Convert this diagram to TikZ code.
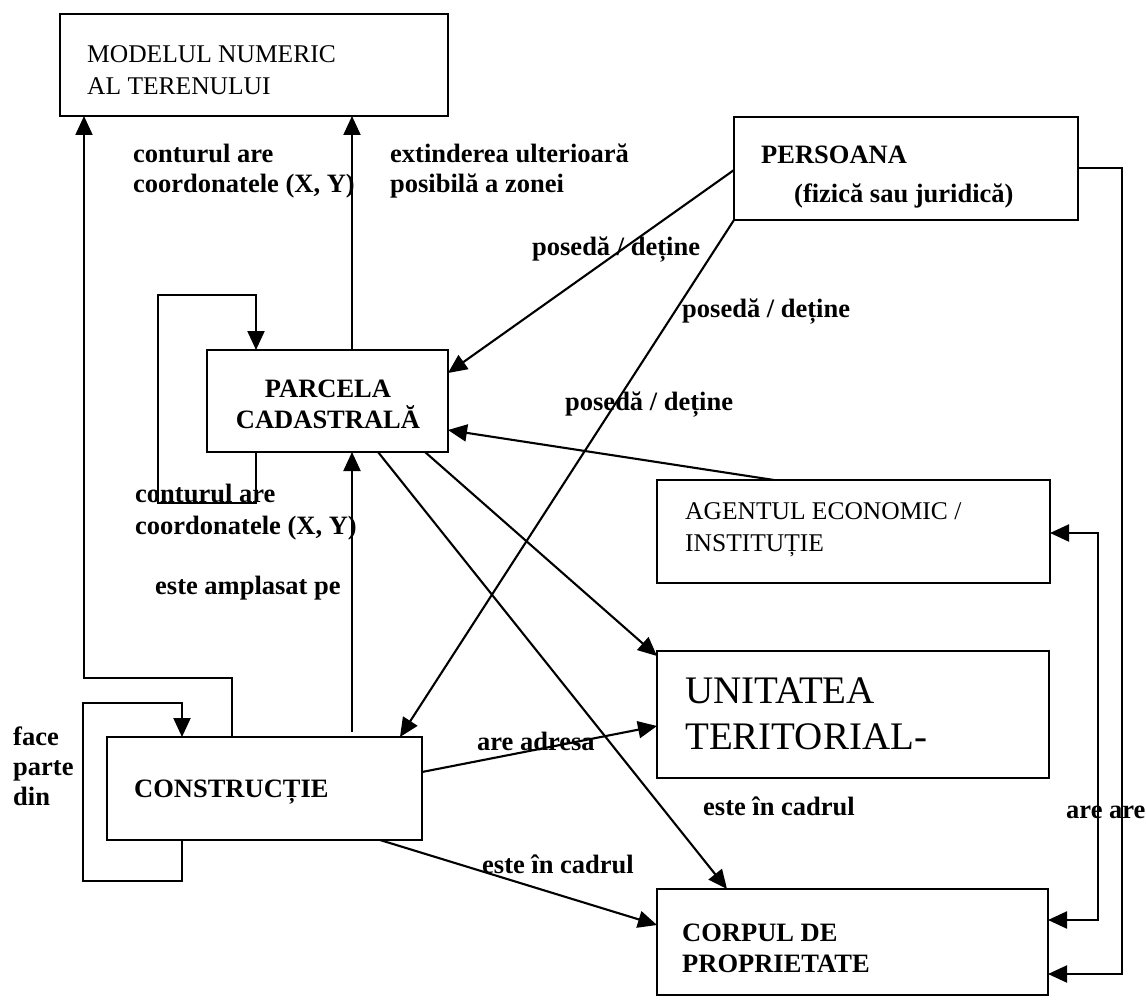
\documentclass[tikz,border=0pt]{standalone}
\usepackage{fontspec}
\setmainfont{Liberation Serif}
\usetikzlibrary{arrows.meta,calc}
\begin{document}
\begin{tikzpicture}[x=1pt,y=-1pt,
  box/.style={draw, line width=2.4pt, rectangle, inner sep=0pt, outer sep=0pt, anchor=north west},
  conn/.style={line width=2.1pt, -{Triangle[length=19pt,width=17pt]}},
  conntwo/.style={line width=2.1pt, {Triangle[length=19pt,width=17pt]}-{Triangle[length=19pt,width=17pt]}},
  rt/.style={anchor=base west, inner sep=0pt, font=\fontsize{25.5}{30}\selectfont},
  bigt/.style={anchor=base west, inner sep=0pt, font=\fontsize{39}{46}\selectfont},
  bt/.style={anchor=base west, inner sep=0pt, font=\bfseries\fontsize{26.5}{30}\selectfont}]
\useasboundingbox (0,0) rectangle (1146,1006);
\fill[white] (0,0) rectangle (1146,1006);

% boxes
\node[box, minimum width=388pt, minimum height=102pt] (mnt) at (60,14) {};
\node[box, minimum width=344pt, minimum height=103pt] (pers) at (734,117) {};
\node[box, minimum width=241pt, minimum height=102pt] (parc) at (207,350) {};
\node[box, minimum width=393pt, minimum height=103pt] (agent) at (657,480) {};
\node[box, minimum width=392pt, minimum height=127pt] (unit) at (657,651) {};
\node[box, minimum width=315pt, minimum height=103pt] (con) at (107,737) {};
\node[box, minimum width=391pt, minimum height=106pt] (corp) at (657,889) {};

% box texts
\node[rt] (tmnt1) at (87,63) {MODELUL NUMERIC};
\node[rt] (tmnt2) at (87,95) {AL TERENULUI};
\node[bt] (tpers1) at (761,164) {PERSOANA};
\node[bt] (tpers2) at (794,202) {(fizică sau juridică)};
\node[bt, anchor=base] (tparc1) at (328,397) {PARCELA};
\node[bt, anchor=base] (tparc2) at (328,428) {CADASTRALĂ};
\node[rt] (tag1) at (685,519) {AGENTUL ECONOMIC /};
\node[rt] (tag2) at (685,551) {INSTITUȚIE};
\node[bigt] (tun1) at (685,703) {UNITATEA};
\node[bigt] (tun2) at (685,749) {TERITORIAL-};
\node[bt] (tcon) at (134,797) {CONSTRUCȚIE};
\node[bt] (tcorp1) at (682,941) {CORPUL DE};
\node[bt] (tcorp2) at (682,972) {PROPRIETATE};

% connectors
\draw[conn] (232,0 |- con.north) -- (232,678) -- (84,678) -- (84,0 |- mnt.south);
\draw[conn] (352,0 |- parc.north) -- (352,0 |- mnt.south);
\draw[conn] (256,0 |- parc.south) -- (256,503) -- (158,503) -- (158,295) -- (256,295) -- (256,0 |- parc.north);
\draw[conn, shorten <=5pt] (352,0 |- con.north) -- (352,0 |- parc.south);
\draw[conn] (182,0 |- con.south) -- (182,881) -- (83,881) -- (83,703) -- (182,703) -- (182,0 |- con.north);
\draw[conn] (pers.west |- 0,170) -- (parc.east |- 0,373);
\draw[conn] (pers.south west) -- (400,0 |- con.north);
\draw[conn] (774,0 |- agent.north) -- (parc.east |- 0,430);
\draw[conn] (425,0 |- parc.south) -- (unit.west |- 0,656);
\draw[conn] (378,0 |- parc.south) -- (727,0 |- corp.north);
\draw[conn] (con.east |- 0,772) -- (unit.west |- 0,726);
\draw[conn] (380,0 |- con.south) -- (corp.west |- 0,925);
\draw[conn] (pers.east |- 0,168) -- (1122,168) -- (1122,974) -- (corp.east |- 0,974);
\draw[conntwo] (agent.east |- 0,533) -- (1098,533) -- (1098,920) -- (corp.east |- 0,920);

% labels
\node[bt] (l1a) at (133,162) {conturul are};
\node[bt] (l1b) at (133,192) {coordonatele (X, Y)};
\node[bt] (l2a) at (390,162) {extinderea ulterioară};
\node[bt] (l2b) at (390,192) {posibilă a zonei};
\node[bt] (l3) at (532,255) {posedă / deține};
\node[bt] (l4) at (682,317) {posedă / deține};
\node[bt] (l5) at (565,410) {posedă / deține};
\node[bt] (l6a) at (135,502) {conturul are};
\node[bt] (l6b) at (135,534) {coordonatele (X, Y)};
\node[bt] (l7) at (155,594) {este amplasat pe};
\node[bt] (l8a) at (13,745) {face};
\node[bt] (l8b) at (13,775) {parte};
\node[bt] (l8c) at (13,805) {din};
\node[bt] (l9) at (477,750) {are adresa};
\node[bt] (l10) at (703,815) {este în cadrul};
\node[bt] (l11) at (1066,818) {are are};
\node[bt] (l12) at (482,873) {este în cadrul};
\end{tikzpicture}
\end{document}
